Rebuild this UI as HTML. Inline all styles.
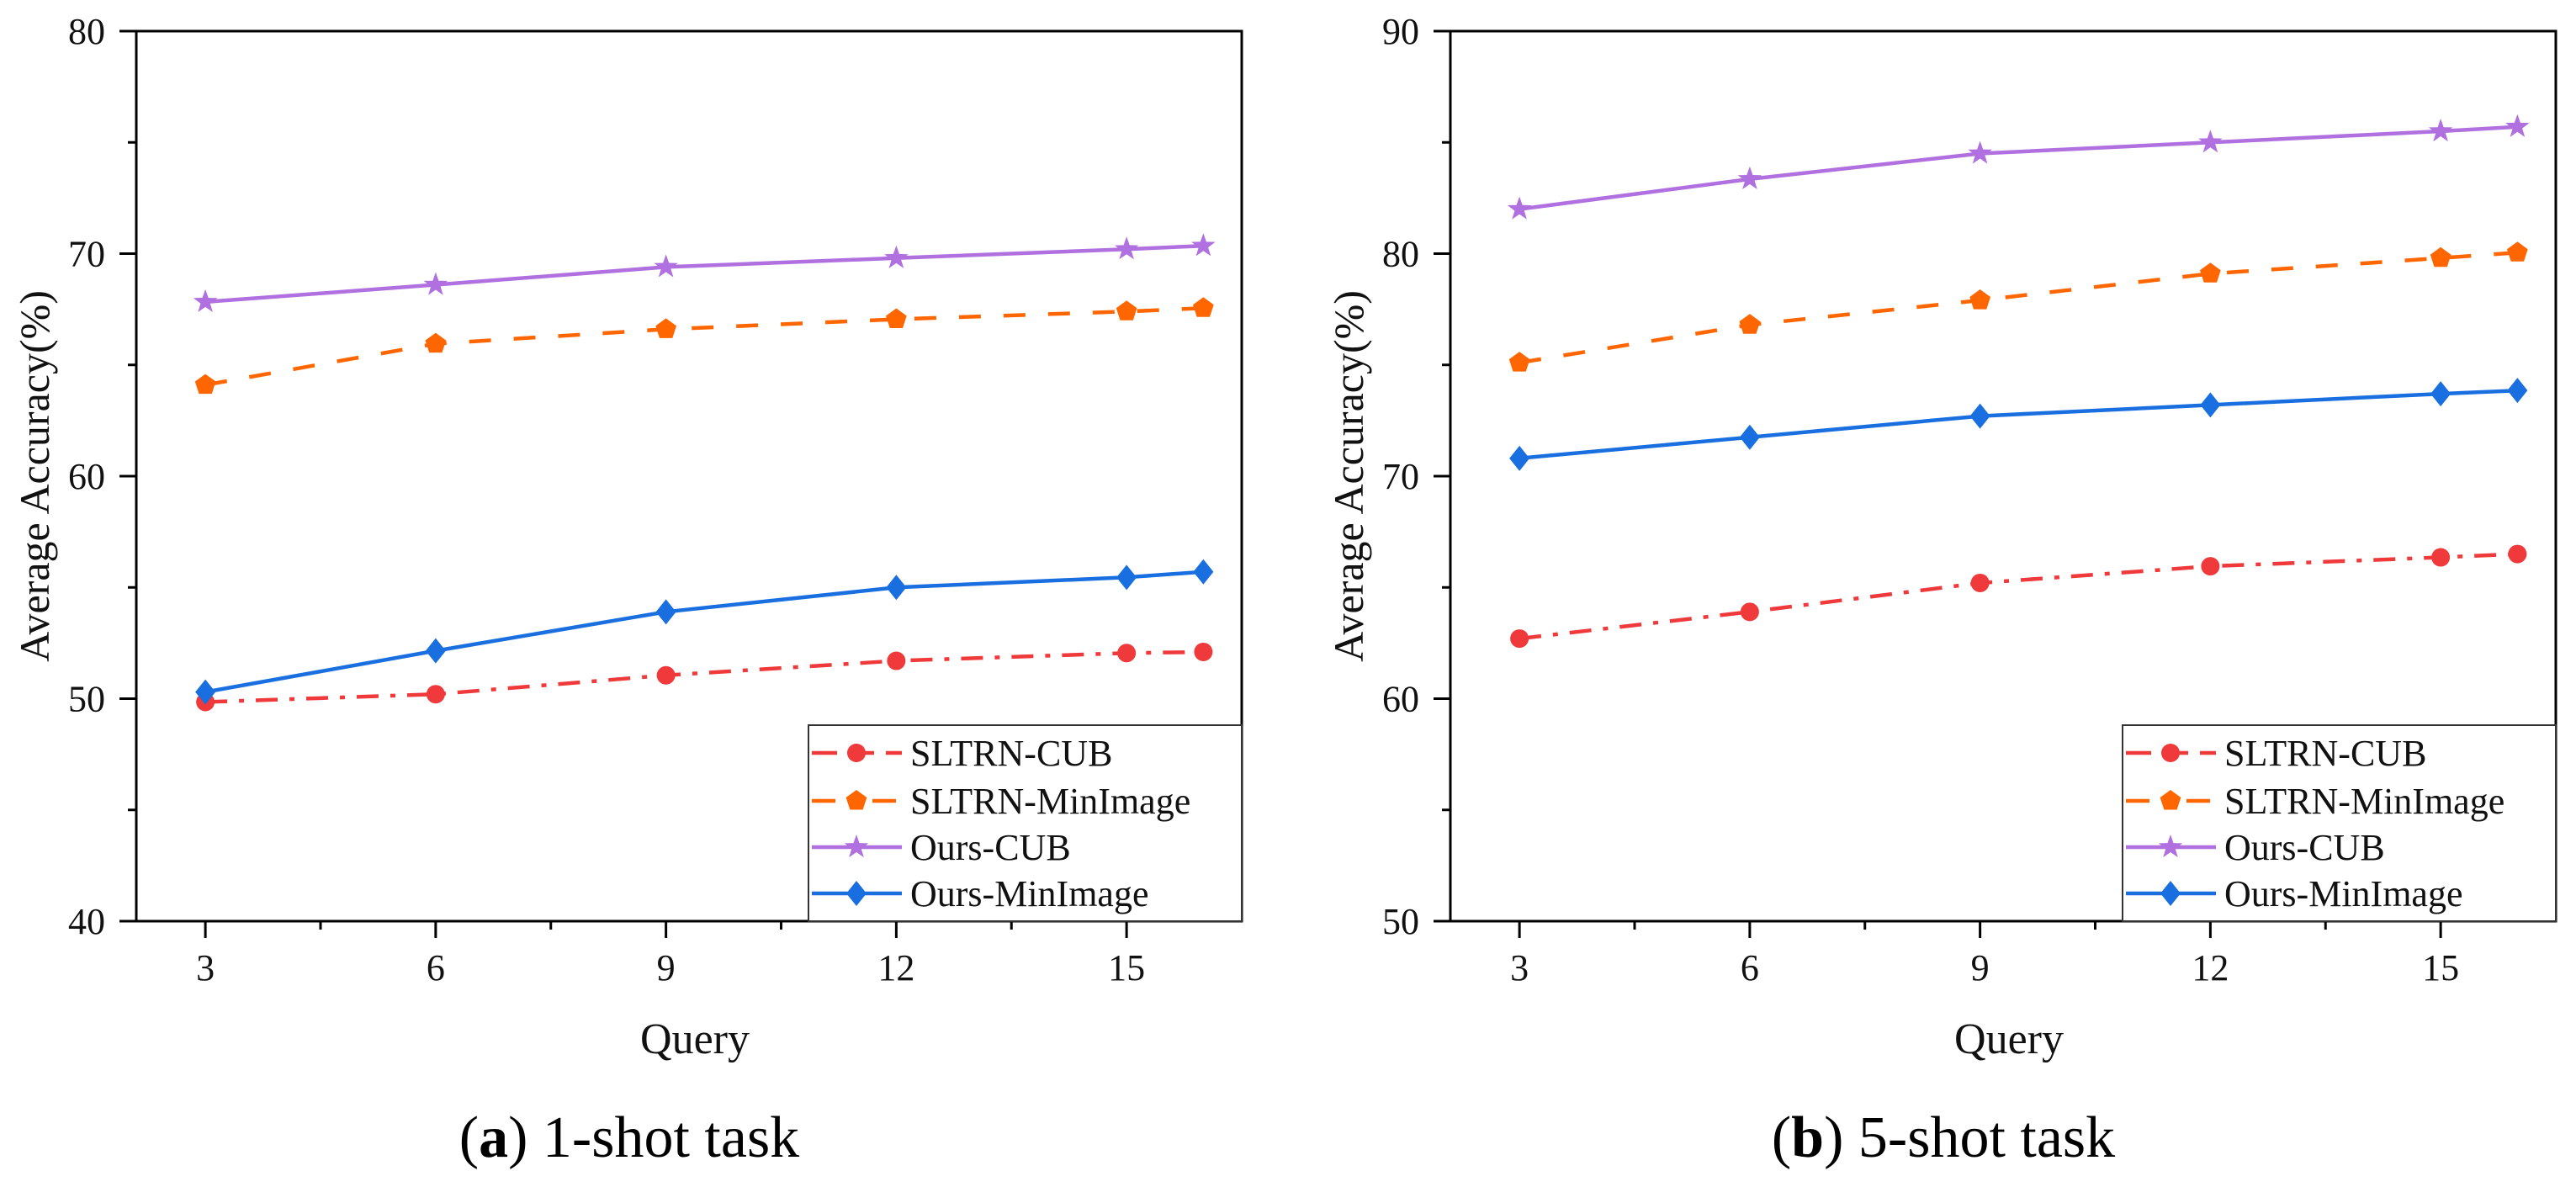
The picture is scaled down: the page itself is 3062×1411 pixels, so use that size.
<!DOCTYPE html>
<html><head><meta charset="utf-8"><style>
html,body{margin:0;padding:0;background:#fff;}
svg{display:block;font-family:"Liberation Serif",serif;}
</style></head><body>
<svg id="chart" width="3062" height="1411" viewBox="0 0 3062 1411" xmlns="http://www.w3.org/2000/svg"></svg>
<script>
const queries = [3, 6, 9, 12, 15, 16];
const xTicks = [3, 6, 9, 12, 15];
const seriesNames = ["SLTRN-CUB", "SLTRN-MinImage", "Ours-CUB", "Ours-MinImage"];
const a_sltrnCub = [49.85, 50.2, 51.05, 51.7, 52.05, 52.1];
const a_sltrnMin = [64.1, 65.95, 66.6, 67.05, 67.4, 67.55];
const a_oursCub = [67.83, 68.6, 69.4, 69.8, 70.2, 70.35];
const a_oursMin = [50.3, 52.15, 53.9, 55.0, 55.45, 55.7];
const b_sltrnCub = [62.7, 63.9, 65.2, 65.95, 66.35, 66.5];
const b_sltrnMin = [75.1, 76.8, 77.9, 79.1, 79.8, 80.05];
const b_oursCub = [82.0, 83.35, 84.5, 85.0, 85.5, 85.7];
const b_oursMin = [70.8, 71.75, 72.7, 73.2, 73.7, 73.85];
const a_yTicks = [40, 50, 60, 70, 80];
const b_yTicks = [50, 60, 70, 80, 90];

const NS = "http://www.w3.org/2000/svg";
const svg = document.getElementById("chart");
function mk(tag, attrs, parent) {
  const e = document.createElementNS(NS, tag);
  for (const k in attrs) e.setAttribute(k, attrs[k]);
  (parent || svg).appendChild(e);
  return e;
}
const styles = [
  {color: "#f0393b", dash: "26 14 6 14", marker: "circle"},
  {color: "#ff6600", dash: "26 27", marker: "pentagon"},
  {color: "#b070e0", dash: "", marker: "star"},
  {color: "#1a6fe0", dash: "", marker: "diamond"}
];
function marker(type, cx, cy, color, g) {
  let m;
  if (type === "circle") {
    m = mk("circle", {cx: cx, cy: cy, r: 11, fill: color}, g);
  } else if (type === "pentagon") {
    const p = [];
    for (let i = 0; i < 5; i++) { const a = -Math.PI/2 + i*2*Math.PI/5; p.push((cx+13*Math.cos(a)).toFixed(1)+","+(cy+13*Math.sin(a)).toFixed(1)); }
    m = mk("polygon", {points: p.join(" "), fill: color}, g);
  } else if (type === "star") {
    const p = [];
    for (let i = 0; i < 10; i++) { const a = -Math.PI/2 + i*Math.PI/5; const r = i%2 ? 6 : 15; p.push((cx+r*Math.cos(a)).toFixed(1)+","+(cy+r*Math.sin(a)).toFixed(1)); }
    m = mk("polygon", {points: p.join(" "), fill: color}, g);
  } else {
    m = mk("polygon", {points: `${cx},${cy-15} ${cx+12},${cy} ${cx},${cy+15} ${cx-12},${cy}`, fill: color}, g);
  }
  return m;
}
function panel(offX, yMin, yMax, yTicks, data, letter, task) {
  const L = offX + 162, R = offX + 1476, T = 37, B = 1095;
  const xMin = 2.1, xMax = 16.5;
  const sx = v => L + (v - xMin) / (xMax - xMin) * (R - L);
  const sy = v => B - (v - yMin) / (yMax - yMin) * (B - T);
  const g = mk("g", {});
  
  
  yTicks.forEach(t => {
    const ln = mk("line", {x1: L-20, x2: L, y1: sy(t), y2: sy(t), stroke: "#000", "stroke-width": 3}, g);
    
    
    const tx = mk("text", {x: L-37, y: sy(t)+15, "text-anchor": "end", "font-size": 44, fill: "#111"}, g);
    tx.textContent = t;
    
    
    if (t < yMax) {
      const mn = mk("line", {x1: L-10, x2: L, y1: sy(t+5), y2: sy(t+5), stroke: "#000", "stroke-width": 3}, g);
      
      
    }
  });
  xTicks.forEach(t => {
    const ln = mk("line", {x1: sx(t), x2: sx(t), y1: B, y2: B+20, stroke: "#000", "stroke-width": 3}, g);
    
    
    if (t + 1.5 < xMax) {
      const mn = mk("line", {x1: sx(t+1.5), x2: sx(t+1.5), y1: B, y2: B+10, stroke: "#000", "stroke-width": 3}, g);
      
      
    }
    const tx = mk("text", {x: sx(t), y: 1165, "text-anchor": "middle", "font-size": 44, fill: "#111"}, g);
    tx.textContent = t;
    
    
  });
  const frame = mk("rect", {x: L, y: T, width: R-L, height: B-T, fill: "none", stroke: "#000", "stroke-width": 3}, g);
  
  
  data.forEach((vals, si) => {
    const st = styles[si];
    const sg = mk("g", {}, g);
    
    
    const pts = vals.map((v, i) => sx(queries[i]).toFixed(1) + "," + sy(v).toFixed(1)).join(" ");
    const pl = mk("polyline", {points: pts, fill: "none", stroke: st.color, "stroke-width": 4.5}, sg);
    if (st.dash) pl.setAttribute("stroke-dasharray", st.dash);
    
    
    vals.forEach((v, i) => {
      const m = marker(st.marker, sx(queries[i]), sy(v), st.color, sg);
      
      
    });
  });
  const lg = mk("g", {}, g);
  
  
  mk("rect", {x: offX+961, y: 862, width: R-(offX+961), height: B-862, fill: "#fff", stroke: "#333", "stroke-width": 2}, lg);
  const rowY = [895, 952, 1007, 1062];
  seriesNames.forEach((n, i) => {
    const st = styles[i];
    const e = mk("g", {}, lg);
    
    
    const ln = mk("line", {x1: offX+965, x2: offX+1072, y1: rowY[i], y2: rowY[i], stroke: st.color, "stroke-width": 4.5}, e);
    if (i === 0) ln.setAttribute("stroke-dasharray", "30 14");
    if (i === 1) ln.setAttribute("stroke-dasharray", "28 44");
    marker(st.marker, offX+1018, rowY[i], st.color, e);
    const tx = mk("text", {x: offX+1082, y: rowY[i]+15, "font-size": 44, fill: "#111"}, e);
    tx.textContent = n;
  });
  const xt = mk("text", {x: offX+826, y: 1252, "text-anchor": "middle", "font-size": 52, fill: "#111"}, g);
  xt.textContent = "Query";
  
  
  const yt = mk("text", {x: 0, y: 0, "text-anchor": "middle", "font-size": 50, fill: "#111", transform: `translate(${offX+58},566) rotate(-90)`}, g);
  yt.textContent = "Average Accuracy(%)";
  
  
  const cap = mk("text", {x: offX+748, y: 1375, "text-anchor": "middle", "font-size": 70, fill: "#000"}, g);
  cap.innerHTML = `(<tspan font-weight="bold">${letter}</tspan>) ${task}`;
  
  
}
panel(0, 40, 80, a_yTicks, [a_sltrnCub, a_sltrnMin, a_oursCub, a_oursMin], "a", "1-shot task");
panel(1562, 50, 90, b_yTicks, [b_sltrnCub, b_sltrnMin, b_oursCub, b_oursMin], "b", "5-shot task");
</script>
</body></html>
